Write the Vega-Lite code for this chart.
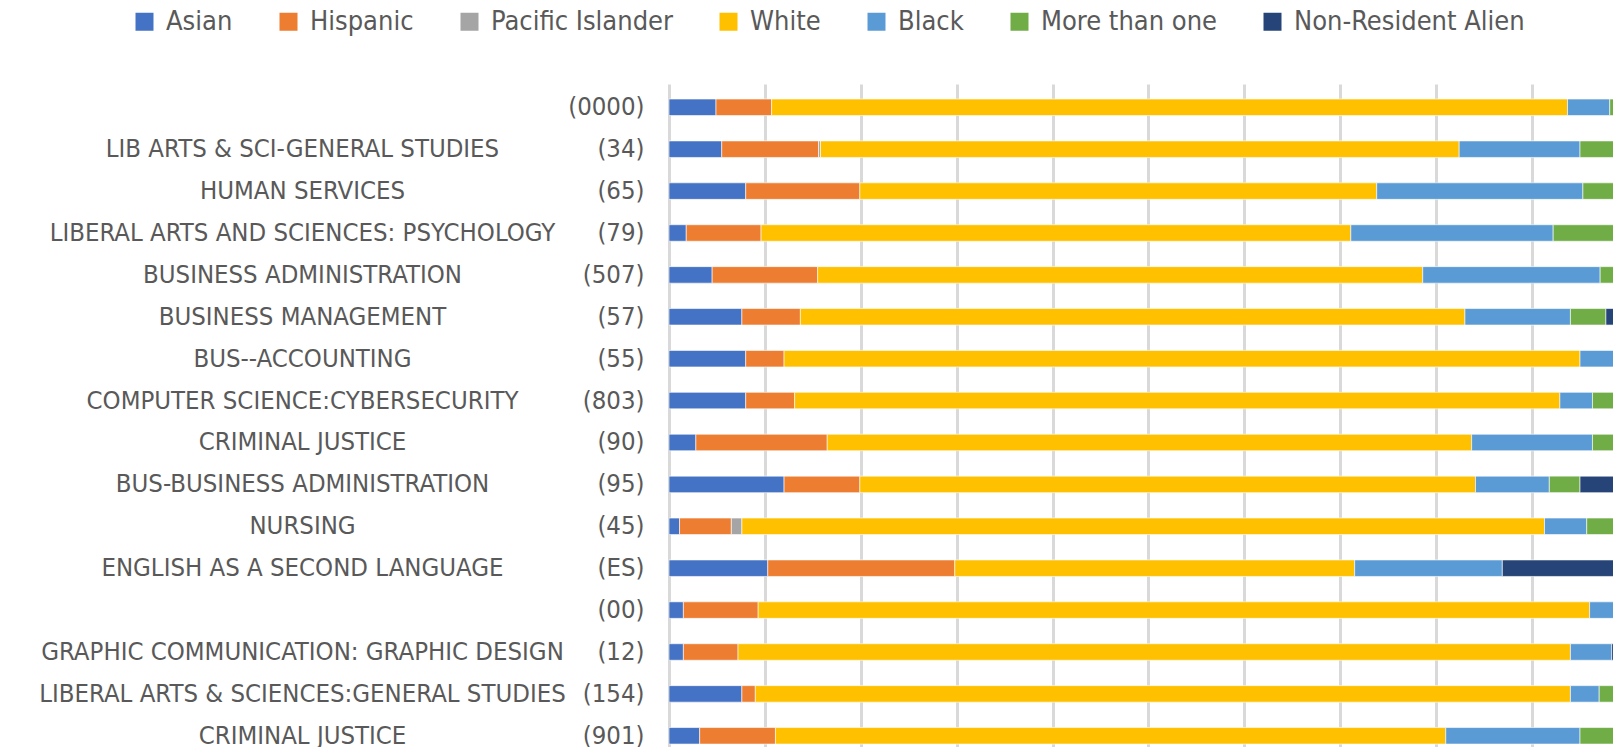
{
  "$schema": "https://vega.github.io/schema/vega-lite/v6.json",
  "width": 944,
  "height": 663,
  "autosize": {"type": "none"},
  "padding": {"left": 669, "top": 84, "right": 0, "bottom": 0},
  "background": "white",
  "config": {"view": {"stroke": null}, "font": "Liberation Sans Narrow, DejaVu Sans Condensed, sans-serif"},
  "data": {"values": [
    {"name": "", "code": "(0000)", "Asian": 4.9, "Hispanic": 5.8, "Pacific Islander": 0, "White": 83.0, "Black": 4.4, "More than one": 1.9, "Non-Resident Alien": 0},
    {"name": "LIB ARTS & SCI-GENERAL STUDIES", "code": "(34)", "Asian": 5.5, "Hispanic": 10.1, "Pacific Islander": 0.2, "White": 66.6, "Black": 12.6, "More than one": 5.0, "Non-Resident Alien": 0},
    {"name": "HUMAN SERVICES", "code": "(65)", "Asian": 8.0, "Hispanic": 11.9, "Pacific Islander": 0, "White": 53.9, "Black": 21.5, "More than one": 4.7, "Non-Resident Alien": 0},
    {"name": "LIBERAL ARTS AND SCIENCES: PSYCHOLOGY", "code": "(79)", "Asian": 1.8, "Hispanic": 7.8, "Pacific Islander": 0, "White": 61.5, "Black": 21.1, "More than one": 7.8, "Non-Resident Alien": 0},
    {"name": "BUSINESS ADMINISTRATION", "code": "(507)", "Asian": 4.5, "Hispanic": 11.0, "Pacific Islander": 0, "White": 63.1, "Black": 18.5, "More than one": 2.9, "Non-Resident Alien": 0},
    {"name": "BUSINESS MANAGEMENT", "code": "(57)", "Asian": 7.6, "Hispanic": 6.1, "Pacific Islander": 0, "White": 69.3, "Black": 11.0, "More than one": 3.7, "Non-Resident Alien": 2.3},
    {"name": "BUS--ACCOUNTING", "code": "(55)", "Asian": 8.0, "Hispanic": 4.0, "Pacific Islander": 0, "White": 83.0, "Black": 4.0, "More than one": 1.0, "Non-Resident Alien": 0},
    {"name": "COMPUTER SCIENCE:CYBERSECURITY", "code": "(803)", "Asian": 8.0, "Hispanic": 5.1, "Pacific Islander": 0, "White": 79.8, "Black": 3.4, "More than one": 3.7, "Non-Resident Alien": 0},
    {"name": "CRIMINAL JUSTICE", "code": "(90)", "Asian": 2.8, "Hispanic": 13.7, "Pacific Islander": 0, "White": 67.2, "Black": 12.6, "More than one": 3.7, "Non-Resident Alien": 0},
    {"name": "BUS-BUSINESS ADMINISTRATION", "code": "(95)", "Asian": 12.0, "Hispanic": 7.9, "Pacific Islander": 0, "White": 64.2, "Black": 7.7, "More than one": 3.2, "Non-Resident Alien": 5.0},
    {"name": "NURSING", "code": "(45)", "Asian": 1.1, "Hispanic": 5.4, "Pacific Islander": 1.1, "White": 83.7, "Black": 4.4, "More than one": 4.3, "Non-Resident Alien": 0},
    {"name": "ENGLISH AS A SECOND LANGUAGE", "code": "(ES)", "Asian": 10.3, "Hispanic": 19.5, "Pacific Islander": 0, "White": 41.7, "Black": 15.4, "More than one": 0, "Non-Resident Alien": 13.1},
    {"name": "", "code": "(00)", "Asian": 1.5, "Hispanic": 7.8, "Pacific Islander": 0, "White": 86.7, "Black": 4.0, "More than one": 0, "Non-Resident Alien": 0},
    {"name": "GRAPHIC COMMUNICATION: GRAPHIC DESIGN", "code": "(12)", "Asian": 1.5, "Hispanic": 5.7, "Pacific Islander": 0, "White": 86.8, "Black": 4.3, "More than one": 0, "Non-Resident Alien": 1.7},
    {"name": "LIBERAL ARTS & SCIENCES:GENERAL STUDIES", "code": "(154)", "Asian": 7.6, "Hispanic": 1.4, "Pacific Islander": 0, "White": 85.0, "Black": 3.0, "More than one": 3.0, "Non-Resident Alien": 0},
    {"name": "CRIMINAL JUSTICE", "code": "(901)", "Asian": 3.2, "Hispanic": 7.9, "Pacific Islander": 0, "White": 69.9, "Black": 14.0, "More than one": 5.0, "Non-Resident Alien": 0}
  ]},
  "transform": [
    {"fold": ["Asian", "Hispanic", "Pacific Islander", "White", "Black", "More than one", "Non-Resident Alien"], "as": ["group", "pct"]},
    {"filter": "datum.pct > 0"},
    {"calculate": "datum.name + '|' + datum.code", "as": "key"},
    {"calculate": "indexof(['Asian', 'Hispanic', 'Pacific Islander', 'White', 'Black', 'More than one', 'Non-Resident Alien'], datum.group)", "as": "stackOrder"}
  ],
  "layer": [
    {
      "mark": {"type": "bar", "clip": true, "stroke": "white", "strokeWidth": 0.6},
      "encoding": {
        "y": {
          "field": "key", "type": "nominal", "sort": null,
          "scale": {"paddingInner": 0.606, "paddingOuter": 0.2146, "align": 0.836},
          "axis": {"orient": "left", "title": null, "labelExpr": "split(datum.value, '|')[1]", "ticks": false, "domain": false, "grid": false, "labelPadding": 25, "labelFontSize": 25.5, "labelColor": "#595959", "labelLimit": 1000}
        },
        "x": {
          "field": "pct", "type": "quantitative", "stack": "normalize",
          "scale": {"domain": [0, 0.9844], "nice": false},
          "axis": {"title": null, "labels": false, "ticks": false, "domain": false, "grid": true, "gridColor": "#d9d9d9", "gridWidth": 3, "values": [0, 0.1, 0.2, 0.3, 0.4, 0.5, 0.6, 0.7, 0.8, 0.9]}
        },
        "color": {
          "field": "group", "type": "nominal",
          "scale": {
            "domain": ["Asian", "Hispanic", "Pacific Islander", "White", "Black", "More than one", "Non-Resident Alien"],
            "range": ["#4472C4", "#ED7D31", "#A5A5A5", "#FFC000", "#5B9BD5", "#70AD47", "#264478"]
          },
          "legend": {
            "orient": "none", "legendX": -538, "legendY": -76, "direction": "horizontal", "columns": 7,
            "title": null, "symbolType": "square", "symbolSize": 324, "symbolStrokeWidth": 0,
            "labelFontSize": 27, "labelColor": "#595959", "labelOffset": 8, "columnPadding": 42, "padding": 0, "labelLimit": 1000
          }
        },
        "order": {"field": "stackOrder", "type": "quantitative"}
      }
    },
    {
      "mark": {"type": "text", "text": ""},
      "encoding": {
        "y": {
          "field": "key", "type": "nominal", "sort": null,
          "axis": {"orient": "left", "title": null, "labelExpr": "split(datum.value, '|')[0]", "labelAlign": "center", "ticks": false, "domain": false, "grid": false, "labelPadding": 367, "labelFontSize": 25.5, "labelColor": "#595959", "labelLimit": 1000}
        }
      }
    }
  ],
  "resolve": {"axis": {"y": "independent"}}
}
